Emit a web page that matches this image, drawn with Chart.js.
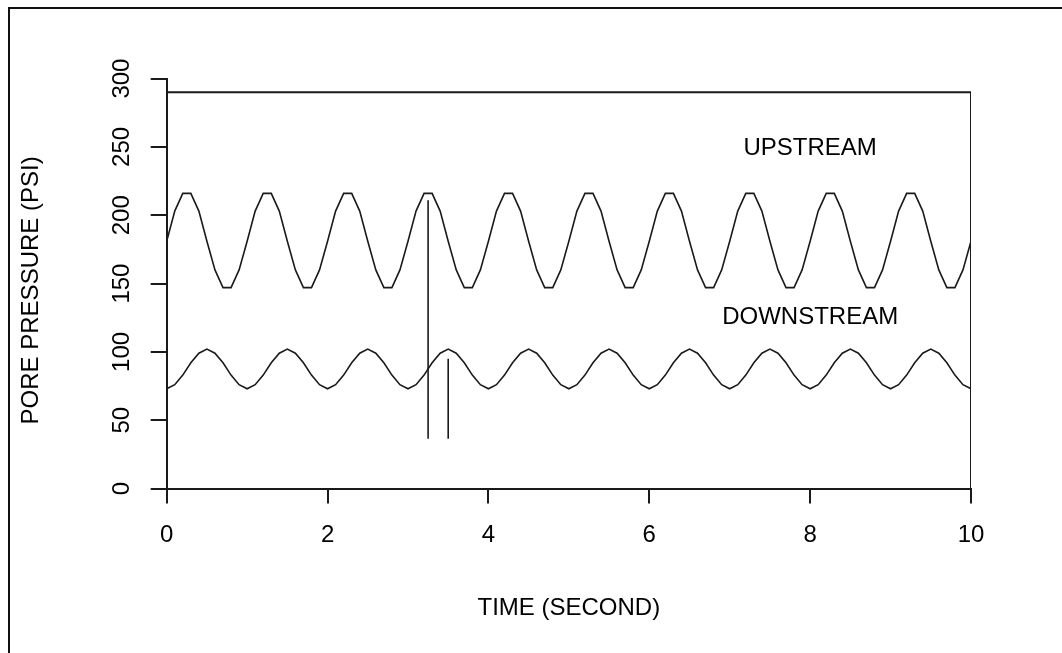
<!DOCTYPE html>
<html>
<head>
<meta charset="utf-8">
<script src="https://cdn.jsdelivr.net/npm/chart.js@4.4.1/dist/chart.umd.min.js"></script>
<style>
  html, body { margin: 0; padding: 0; background: #fff; }
  #wrap { position: relative; width: 1062px; height: 653px; overflow: hidden; }
  #frame {
    position: absolute; left: 8px; top: 7px; right: -10px; bottom: -10px;
    border-top: 2px solid #111; border-left: 2px solid #111;
    pointer-events: none;
  }
  canvas { position: absolute; left: 0; top: 0; }
</style>
</head>
<body>
<div id="wrap">
  <canvas id="poreChart" width="1062" height="653"></canvas>
  <div id="frame"></div>
</div>
<script>
// time (s), sampled every 0.1 s
const time = [
  0.0, 0.1, 0.2, 0.3, 0.4, 0.5, 0.6, 0.7, 0.8, 0.9,
  1.0, 1.1, 1.2, 1.3, 1.4, 1.5, 1.6, 1.7, 1.8, 1.9,
  2.0, 2.1, 2.2, 2.3, 2.4, 2.5, 2.6, 2.7, 2.8, 2.9,
  3.0, 3.1, 3.2, 3.3, 3.4, 3.5, 3.6, 3.7, 3.8, 3.9,
  4.0, 4.1, 4.2, 4.3, 4.4, 4.5, 4.6, 4.7, 4.8, 4.9,
  5.0, 5.1, 5.2, 5.3, 5.4, 5.5, 5.6, 5.7, 5.8, 5.9,
  6.0, 6.1, 6.2, 6.3, 6.4, 6.5, 6.6, 6.7, 6.8, 6.9,
  7.0, 7.1, 7.2, 7.3, 7.4, 7.5, 7.6, 7.7, 7.8, 7.9,
  8.0, 8.1, 8.2, 8.3, 8.4, 8.5, 8.6, 8.7, 8.8, 8.9,
  9.0, 9.1, 9.2, 9.3, 9.4, 9.5, 9.6, 9.7, 9.8, 9.9,
  10.0
];

// pore pressure (psi)
const upstream = [
  181, 203, 216, 216, 203, 181, 160, 147, 147, 160,
  181, 203, 216, 216, 203, 181, 160, 147, 147, 160,
  181, 203, 216, 216, 203, 181, 160, 147, 147, 160,
  181, 203, 216, 216, 203, 181, 160, 147, 147, 160,
  181, 203, 216, 216, 203, 181, 160, 147, 147, 160,
  181, 203, 216, 216, 203, 181, 160, 147, 147, 160,
  181, 203, 216, 216, 203, 181, 160, 147, 147, 160,
  181, 203, 216, 216, 203, 181, 160, 147, 147, 160,
  181, 203, 216, 216, 203, 181, 160, 147, 147, 160,
  181, 203, 216, 216, 203, 181, 160, 147, 147, 160,
  181
];

const downstream = [
  73, 76, 83, 92, 99, 102, 99, 92, 83, 76,
  73, 76, 83, 92, 99, 102, 99, 92, 83, 76,
  73, 76, 83, 92, 99, 102, 99, 92, 83, 76,
  73, 76, 83, 92, 99, 102, 99, 92, 83, 76,
  73, 76, 83, 92, 99, 102, 99, 92, 83, 76,
  73, 76, 83, 92, 99, 102, 99, 92, 83, 76,
  73, 76, 83, 92, 99, 102, 99, 92, 83, 76,
  73, 76, 83, 92, 99, 102, 99, 92, 83, 76,
  73, 76, 83, 92, 99, 102, 99, 92, 83, 76,
  73, 76, 83, 92, 99, 102, 99, 92, 83, 76,
  73
];

// phase markers: time, top and bottom pressure
const markerTime = [3.25, 3.5];
const markerTop = [211, 95];
const markerBottom = [36.5, 36.5];

// upper frame line of the plot
const frameTop = 290;

// curve labels
const labelText = ['UPSTREAM', 'DOWNSTREAM'];
const labelTime = [8, 8];
const labelPressure = [249, 125];

const yTitle = 'PORE PRESSURE (PSI)';
const xTitle = 'TIME (SECOND)';

const ink = '#1a1a1a';
const fontFamily = '"Liberation Sans", Arial, sans-serif';

function series(xs, ys) {
  return xs.map((x, i) => ({ x: x, y: ys[i] }));
}

function lineSet(points, width) {
  return {
    data: points,
    borderColor: ink,
    borderWidth: width,
    pointRadius: 0,
    tension: 0,
    fill: false
  };
}

const datasets = [
  lineSet(series(time, upstream), 1.6),
  lineSet(series(time, downstream), 1.6),
  lineSet([{ x: time[0], y: frameTop }, { x: time[time.length - 1], y: frameTop }, { x: time[time.length - 1], y: 0 }], 2)
];
markerTime.forEach((t, i) => {
  datasets.push(lineSet([{ x: t, y: markerTop[i] }, { x: t, y: markerBottom[i] }], 1.6));
});

// curve names inside the plot, plus the vertical axis title
const curveLabels = {
  id: 'curveLabels',
  afterDatasetsDraw(chart) {
    const ctx = chart.ctx;
    const xs = chart.scales.x, ys = chart.scales.y;
    ctx.save();
    ctx.fillStyle = '#000';
    ctx.font = '24px ' + fontFamily;
    ctx.textAlign = 'center';
    ctx.textBaseline = 'middle';
    labelText.forEach((txt, i) => {
      ctx.fillText(txt, xs.getPixelForValue(labelTime[i]), ys.getPixelForValue(labelPressure[i]));
    });
    ctx.translate(31, ys.getPixelForValue(145));
    ctx.rotate(-Math.PI / 2);
    ctx.fillText(yTitle, 0, 0);
    ctx.restore();
  }
};

new Chart(document.getElementById('poreChart').getContext('2d'), {
  type: 'line',
  data: { datasets: datasets },
  plugins: [curveLabels],
  options: {
    responsive: false,
    animation: false,
    layout: { padding: { top: 78.6, right: 91, bottom: 0, left: 0 } },
    plugins: { legend: { display: false }, tooltip: { enabled: false } },
    scales: {
      x: {
        type: 'linear',
        min: 0,
        max: 10,
        afterFit(scale) { scale.height = 164.5; },
        ticks: { stepSize: 2, color: '#000', padding: 17, font: { size: 24, family: fontFamily } },
        grid: { drawOnChartArea: false, drawTicks: true, tickLength: 15, color: ink, lineWidth: 2 },
        border: { display: true, color: ink, width: 2 },
        title: { display: true, text: xTitle, color: '#000', padding: { top: 0, bottom: 30 }, font: { size: 24, family: fontFamily } }
      },
      y: {
        min: 0,
        max: 300,
        afterFit(scale) { scale.width = 166.7; },
        ticks: { stepSize: 50, color: '#000', minRotation: 90, maxRotation: 90, crossAlign: 'center', padding: 8, font: { size: 24, family: fontFamily } },
        grid: { drawOnChartArea: false, drawTicks: true, tickLength: 16, color: ink, lineWidth: 2 },
        border: { display: true, color: ink, width: 2 }
      }
    }
  }
});
</script>
</body>
</html>
